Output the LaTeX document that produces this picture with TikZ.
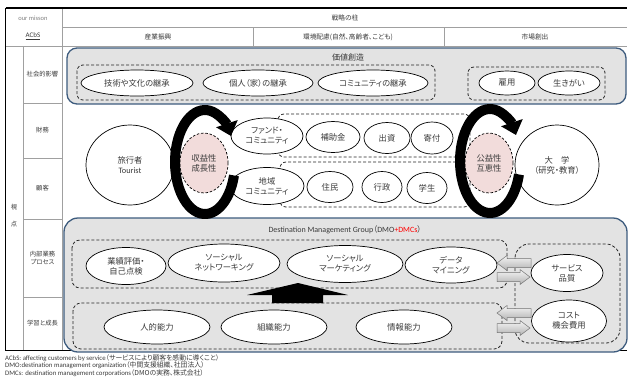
\documentclass[tikz,border=0pt]{standalone}
\usepackage{fontspec}
\setmainfont{Carlito}
\newfontfamily\jp[RawFeature=+palt]{Noto Sans CJK JP}
\usetikzlibrary{shapes.geometric,arrows.meta}
\definecolor{boxblue}{HTML}{3E5C7E}
\definecolor{boxgray}{HTML}{E3E3E3}
\definecolor{pinkfill}{HTML}{F2DCDB}
\definecolor{gridgray}{HTML}{A0A0A0}
\definecolor{txt}{HTML}{3A3A3A}
\tikzset{
  ell/.style={ellipse, draw=black, fill=white, line width=0.7pt, inner sep=0pt, text=txt, align=center, font=\jp\fontsize{8.3}{10}\selectfont},
  pinkell/.style={ellipse, draw=black, fill=pinkfill, line width=0.7pt, dash pattern=on 2.5pt off 1.8pt, inner sep=0pt, text=txt, align=center, font=\jp\fontsize{8.3}{10}\selectfont},
  dbox/.style={draw=black!85, line width=0.8pt, dash pattern=on 3pt off 2pt, rounded corners=6pt},
  bigbox/.style={draw=boxblue, fill=boxgray, line width=1.3pt},
  grid/.style={draw=gridgray, line width=0.6pt},
  hdr/.style={text=txt, font=\jp\fontsize{6.7}{8}\selectfont, inner sep=0pt},
  rowlab/.style={text=txt, font=\jp\fontsize{6.3}{7.8}\selectfont, align=center, inner sep=0pt},
  cyc/.style={line width=10pt, draw=black, -{Triangle[length=13pt,width=22pt]}},
  garrow/.style={top color=gray!8, bottom color=gray!60, draw=black!55, line width=0.5pt},
  foot/.style={anchor=west, inner sep=0pt, text=txt, font=\fontsize{6.8}{7}\selectfont},
}
\begin{document}
\begin{tikzpicture}[x=1pt,y=-1pt]
\useasboundingbox (0,0) rectangle (629,376);
% table grid
\draw[grid] (62,8) -- (62,350);
\draw[grid] (62,27) -- (627,27);
\draw[grid] (5,46) -- (627,46);
\draw[grid] (253,27) -- (253,46);
\draw[grid] (444,27) -- (444,46);
\draw[grid] (23,46) -- (23,350);
\foreach \yy in {103,158,219,297} \draw[grid] (23,\yy) -- (62,\yy);
\draw[black, line width=0.6pt] (5,350) -- (627,350);
\draw[black, line width=1.3pt] (5.5,8) -- (627,8);
\draw[black, line width=1.3pt] (5.5,8) -- (5.5,350);
% header texts
\node[inner sep=0pt, text=gray, font=\fontsize{6.5}{7}\selectfont] (mis) at (33,18) {our misson};
\node[inner sep=0pt, text=txt, font=\fontsize{7}{8}\selectfont] (acbs) at (33,36) {\underline{ACbS}};
\node[hdr] (pillar) at (345,18) {戦略の柱};
\node[hdr] (h1) at (158,37) {産業振興};
\node[hdr] (h2) at (348,37) {環境配慮(自然、高齢者、こども)};
\node[hdr] (h3) at (535,37) {市場創出};
% row labels
\node[rowlab] (r1) at (42.5,74.5) {社会的影響};
\node[rowlab] (r2) at (42.5,130) {財務};
\node[rowlab] (r3) at (42.5,188) {顧客};
\node[rowlab] (r4) at (42.5,258) {内部業務\\プロセス};
\node[rowlab] (r5) at (42.5,323) {学習と成長};
\node[rowlab] (s1) at (14,207) {視};
\node[rowlab] (s2) at (14,224) {点};
% value creation box
\draw[bigbox, rounded corners=10pt] (67,48) rectangle (626,104);
\node[inner sep=0pt, text=txt, font=\jp\fontsize{8}{9}\selectfont] (vtitle) at (348,57) {価値創造};
\draw[dbox] (77,65) rectangle (435,100);
\draw[dbox] (468,67) rectangle (605,100);
\node[ell, minimum width=112pt, minimum height=26pt] (v1) at (137,83) {技術や文化の継承};
\node[ell, minimum width=110pt, minimum height=26pt] (v2) at (258,83) {個人（家）の継承};
\node[ell, minimum width=110pt, minimum height=26pt] (v3) at (373,83) {コミュニティの継承};
\node[ell, minimum width=56pt, minimum height=24pt] (v4) at (507,83) {雇用};
\node[ell, minimum width=62pt, minimum height=24pt] (v5) at (569,83) {生きがい};
% DMG box
\draw[bigbox, rounded corners=14pt] (64,218) rectangle (627,352);
\node[inner sep=0pt, text=txt, font=\fontsize{8}{9}\selectfont] (dtitle) at (345,230) {Destination Management Group{\jp（}DMO\textcolor{red}{+DMCs}{\jp）}};
\draw[dbox, rounded corners=8pt] (72,240) rectangle (507,288);
\draw[dbox, rounded corners=8pt] (73,303) rectangle (502,349);
\draw[dbox, rounded corners=14pt] (515,244) rectangle (620,343);
\node[ell, minimum width=80pt, minimum height=37pt] (d1) at (126,266) {業績評価・\\自己点検};
\node[ell, minimum width=112pt, minimum height=38pt] (d2) at (224,263) {ソーシャル\\ネットワーキング};
\node[ell, minimum width=116pt, minimum height=37pt] (d3) at (345,264) {ソーシャル\\マーケティング};
\node[ell, minimum width=92pt, minimum height=36pt] (d4) at (451,265) {データ\\マイニング};
\node[ell, minimum width=106pt, minimum height=34pt] (l1) at (157,327) {人的能力};
\node[ell, minimum width=106pt, minimum height=34pt] (l2) at (274,327) {組織能力};
\node[ell, minimum width=96pt, minimum height=34pt] (l3) at (404,327) {情報能力};
\node[ell, minimum width=72pt, minimum height=37pt] (q1) at (567,273) {サービス\\品質};
\node[ell, minimum width=75pt, minimum height=42pt] (q2) at (569,321) {コスト\\機会費用};
% up arrow
\fill[black] (298,283) -- (348,295) -- (323,295) -- (323,303) -- (272,303) -- (272,295) -- (247,295) -- cycle;
% gray arrows
\foreach \yc in {263,313}
  \shade[garrow] (531,\yc-4.5) -- (507,\yc-4.5) -- (507,\yc-7.5) -- (497,\yc) -- (507,\yc+7.5) -- (507,\yc+4.5) -- (531,\yc+4.5) -- cycle;
\foreach \yc in {277,328}
  \shade[garrow] (497,\yc-4.5) -- (520,\yc-4.5) -- (520,\yc-7.5) -- (530,\yc) -- (520,\yc+7.5) -- (520,\yc+4.5) -- (497,\yc+4.5) -- cycle;
% middle
\draw[dbox] (278,114) rectangle (470,157);
\draw[dbox] (280,162) rectangle (470,207);
\node[pinkell, minimum width=48pt, minimum height=60pt] (p1) at (204,163) {収益性\\成長性};
\node[pinkell, minimum width=48pt, minimum height=60pt] (p2) at (489,163) {公益性\\互恵性};
\node[ell, minimum width=88pt, minimum height=80pt] (tour) at (130,165) {旅行者\\{\rmfamily Tourist}};
\node[ell, minimum width=84pt, minimum height=80pt] (univ) at (557,165) {大　学\\（研究・教育）};
\node[ell, minimum width=72pt, minimum height=36pt] (f1) at (267,136) {ファンド・\\コミュニティ};
\node[ell, minimum width=54pt, minimum height=31pt] (f2) at (333,137) {補助金};
\node[ell, minimum width=46pt, minimum height=31pt] (f3) at (387,138) {出資};
\node[ell, minimum width=42pt, minimum height=32pt] (f4) at (432,138) {寄付};
\node[ell, minimum width=74pt, minimum height=37pt] (c1) at (267,186) {地域\\コミュニティ};
\node[ell, minimum width=46pt, minimum height=31pt] (c2) at (330,187) {住民};
\node[ell, minimum width=40pt, minimum height=31pt] (c3) at (382,187) {行政};
\node[ell, minimum width=40pt, minimum height=31pt] (c4) at (427,188) {学生};
% circular arrows
\draw[cyc] (233.98,175.46) arc[start angle=-15, end angle=-330, x radius=30pt, y radius=52pt];
\draw[cyc] (518.98,174.46) arc[start angle=-15, end angle=-330, x radius=30pt, y radius=52pt];
% footer
\node[foot] (n1) at (5,358.5) {ACbS: affecting customers by service{\jp（サービスにより顧客を感動に導くこと）}};
\node[foot] (n2) at (5,365.5) {DMO:destination management organization{\jp（中間支援組織、社団法人）}};
\node[foot] (n3) at (5,373) {DMCs: destination management corporations{\jp（DMOの実務、株式会社）}};
\end{tikzpicture}
\end{document}
